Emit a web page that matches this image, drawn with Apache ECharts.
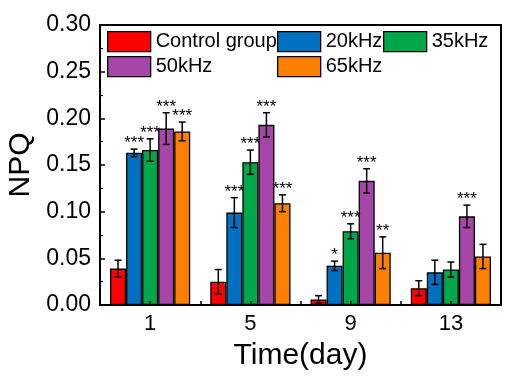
<!DOCTYPE html>
<html>
<head>
<meta charset="utf-8">
<script src="https://cdn.jsdelivr.net/npm/echarts@6/dist/echarts.min.js"></script>
<style>html,body{margin:0;padding:0;background:#fff;}#c{width:521px;height:381px;}</style>
</head>
<body>
<div id="c"></div>
<script>
const categories = ['1', '5', '9', '13'];
const seriesNames = ['Control group', '20kHz', '35kHz', '50kHz', '65kHz'];
const controlVals = [0.039, 0.025, 0.006, 0.018];
const controlErr = [0.009, 0.013, 0.004, 0.008];
const k20Vals = [0.163, 0.099, 0.042, 0.035];
const k20Err = [0.004, 0.016, 0.005, 0.013];
const k35Vals = [0.166, 0.153, 0.079, 0.038];
const k35Err = [0.012, 0.013, 0.008, 0.008];
const k50Vals = [0.189, 0.193, 0.133, 0.095];
const k50Err = [0.017, 0.013, 0.013, 0.012];
const k65Vals = [0.186, 0.109, 0.056, 0.052];
const k65Err = [0.010, 0.009, 0.017, 0.013];
const controlStars = ['', '', '', ''];
const k20Stars = ['***', '***', '*', ''];
const k35Stars = ['***', '***', '***', ''];
const k50Stars = ['***', '***', '***', '***'];
const k65Stars = ['***', '***', '**', ''];
const yTicks = [0, 0.05, 0.10, 0.15, 0.20, 0.25, 0.30];

const colors = ['#FF0000', '#0070C0', '#00A84A', '#A646A8', '#FF7F00'];
const allVals = [controlVals, k20Vals, k35Vals, k50Vals, k65Vals];
const allErr = [controlErr, k20Err, k35Err, k50Err, k65Err];
const allStars = [controlStars, k20Stars, k35Stars, k50Stars, k65Stars];
const FONT = '"Liberation Sans", Arial, sans-serif';

const rows = [];
const starRows = [];
allVals.forEach((vals, s) => {
  vals.forEach((v, c) => {
    rows.push([c, s, v, allErr[s][c]]);
    starRows.push(allStars[s][c]);
  });
});

const barSeries = seriesNames.map((name, s) => ({
  name: name,
  type: 'bar',
  data: allVals[s],
  barGap: '0%',
  barCategoryGap: '20%',
  itemStyle: { color: colors[s], borderColor: '#000', borderWidth: 1.3 },
  z: 2
}));

const errSeries = {
  type: 'custom',
  data: rows,
  encode: { x: 0, y: 2 },
  clip: false,
  z: 5,
  silent: true,
  renderItem: function (params, api) {
    const c = api.value(0), s = api.value(1), v = api.value(2), e = api.value(3);
    const bandW = api.size([1, 0])[0];
    const barW = bandW * 0.8 / 5;
    const p = api.coord([c, v]);
    const x = p[0] + (s - 2) * barW;
    const yt = api.coord([c, v + e])[1];
    const yb = api.coord([c, Math.max(0, v - e)])[1];
    const cap = 3.5;
    const st = { stroke: '#000', lineWidth: 1.5 };
    const children = [
      { type: 'line', shape: { x1: x, y1: yt, x2: x, y2: yb }, style: st },
      { type: 'line', shape: { x1: x - cap, y1: yt, x2: x + cap, y2: yt }, style: st },
      { type: 'line', shape: { x1: x - cap, y1: yb, x2: x + cap, y2: yb }, style: st }
    ];
    const star = starRows[params.dataIndex];
    if (star) {
      children.push({
        type: 'text',
        style: { text: star, x: x, y: yt + 3, align: 'center', verticalAlign: 'bottom',
                 font: '17px ' + FONT, fill: '#000' }
      });
    }
    return { type: 'group', children: children };
  }
};

const legendPos = [[107, 31], [277, 31], [383, 31], [107, 56], [277, 56]];
const legends = seriesNames.map((name, s) => ({
  data: [name],
  left: legendPos[s][0],
  top: legendPos[s][1],
  itemWidth: 43,
  itemHeight: 20,
  icon: 'rect',
  padding: 0,
  selectedMode: false,
  textStyle: { fontSize: 20, color: '#000', fontFamily: FONT },
  itemStyle: { borderColor: '#000', borderWidth: 1.3 }
}));

const chart = echarts.init(document.getElementById('c'), null, { renderer: 'canvas' });
chart.setOption({
  animation: false,
  backgroundColor: '#fff',
  color: colors,
  legend: legends,
  grid: { left: 100, right: 20, top: 25, bottom: 76, outerBoundsMode: 'none', containLabel: false,
          show: true, borderColor: '#000', borderWidth: 2, backgroundColor: 'transparent' },
  xAxis: [{
    type: 'category',
    data: categories,
    axisLine: { lineStyle: { color: '#000', width: 2 } },
    axisTick: { show: false },
    axisLabel: { fontSize: 22, color: '#000', fontFamily: FONT, margin: 8 },
    name: 'Time(day)',
    nameLocation: 'middle',
    nameGap: 36,
    nameTextStyle: { fontSize: 30, color: '#000', fontFamily: FONT }
  }, {
    type: 'value',
    min: 0, max: 4, interval: 0.5,
    position: 'bottom',
    z: 10,
    axisLine: { show: false },
    axisTick: { show: true, inside: true, length: 4, lineStyle: { color: '#000', width: 1.5 } },
    axisLabel: { show: false },
    splitLine: { show: false }
  }],
  yAxis: {
    type: 'value',
    min: yTicks[0],
    max: yTicks[yTicks.length - 1],
    interval: 0.05,
    axisLine: { show: true, lineStyle: { color: '#000', width: 2 } },
    axisTick: { show: true, inside: true, length: 5, lineStyle: { color: '#000', width: 1.5 } },
    minorTick: { show: true, splitNumber: 2, length: 3, lineStyle: { color: '#000', width: 1.2 } },
    splitLine: { show: false },
    axisLabel: { fontSize: 23, color: '#000', fontFamily: FONT, margin: 9, formatter: v => v.toFixed(2) },
    name: 'NPQ',
    nameLocation: 'middle',
    nameGap: 56,
    nameTextStyle: { fontSize: 30, color: '#000', fontFamily: FONT }
  },
  series: barSeries.concat([errSeries])
});
</script>
</body>
</html>
